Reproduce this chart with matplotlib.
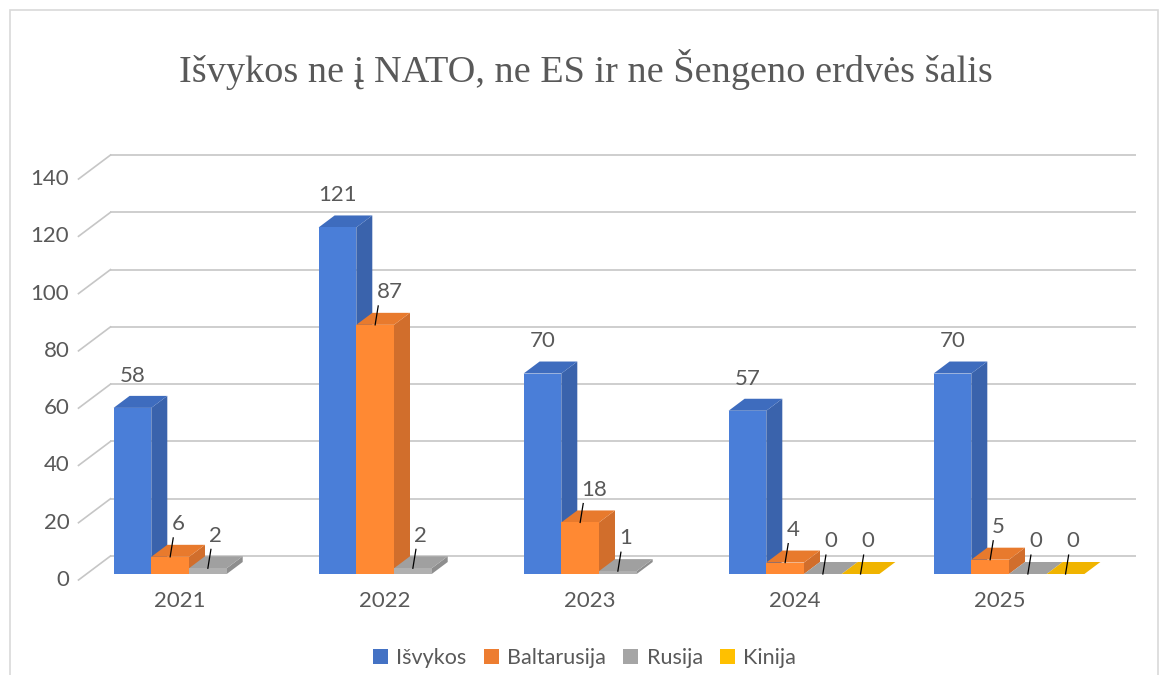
import matplotlib.pyplot as plt
from matplotlib.patches import Rectangle, Patch

years = ["2021", "2022", "2023", "2024", "2025"]
series = ["Išvykos", "Baltarusija", "Rusija", "Kinija"]
isvykos = [58, 121, 70, 57, 70]
baltarusija = [6, 87, 18, 4, 5]
rusija = [2, 2, 1, 0, 0]
kinija = [None, None, None, 0, 0]
values = [isvykos, baltarusija, rusija, kinija]
yticks = [0, 20, 40, 60, 80, 100, 120, 140]

# front, top, side colours per series
face_cols = ["#4a7ed8", "#ff8933", "#b0b0b0", "#ffc000"]
top_cols = ["#3e6cbe", "#e87a2d", "#a0a0a0", "#f0b400"]
side_cols = ["#3a63ac", "#d16e2c", "#8e8e8e", "#d9a200"]
legend_cols = ["#4472c4", "#ed7d31", "#a5a5a5", "#ffc000"]
txt = "#595959"
grid = "#c6c6c6"
fs = 16

W, H = 1160, 675
fig = plt.figure(figsize=(W / 100, H / 100), dpi=100)
plt.rcParams['font.family'] = ['Lato', 'DejaVu Sans']

# pixel geometry of the original chart
px_cat = 205.0      # pixels per category
cat0 = 189.0        # pixel x of first group centre
px_val = 2.864      # pixels per unit
y0 = 574.0          # pixel y of value 0 on bar front plane
xlim = (-0.6, 4.75)
ylim = (-4, 148)
left = cat0 + xlim[0] * px_cat
right = cat0 + xlim[1] * px_cat
bot = y0 - ylim[0] * px_val
top = y0 - ylim[1] * px_val
ax = fig.add_axes([left / W, 1 - bot / H, (right - left) / W, (bot - top) / H])
ax.set_xlim(*xlim)
ax.set_ylim(*ylim)
ax.axis("off")

# full depth of the floor, in data units
Dx = 32 / px_cat
Dy = 24 / px_val
w = 37.7 / px_cat
ddx, ddy = 0.5 * Dx, 0.5 * Dy

# back wall gridlines and left diagonal ticks
xl, xr = -0.5, 4.5
for v in yticks:
    ax.plot([xl + 0.75 * Dx, xr + 0.75 * Dx], [v + 0.75 * Dy, v + 0.75 * Dy],
            color=grid, lw=1.2, zorder=1, solid_capstyle="butt")
    ax.plot([xl - 0.25 * Dx, xl + 0.75 * Dx], [v - 0.25 * Dy, v + 0.75 * Dy],
            color=grid, lw=1.2, zorder=1)
    ax.text(xl - 0.25 * Dx - 0.045, v - 0.25 * Dy, str(v), ha="right", va="center",
            fontsize=fs, color=txt)

for i, yr in enumerate(years):
    ax.text(i - 0.25 * Dx - 0.04 * w, -0.25 * Dy - 7.2, yr, ha="center", va="center",
            fontsize=fs, color=txt)

# bars
for j, vals in enumerate(values):
    for i, v in enumerate(vals):
        if v is None:
            continue
        x0 = i + (j - 2) * w
        x1 = x0 + w
        z = 3 + j * 3
        ax.fill([x1, x1, x1 + ddx, x1 + ddx], [0, v, v + ddy, ddy],
                color=side_cols[j], lw=0, zorder=z)
        ax.fill([x0, x1, x1 + ddx, x0 + ddx], [v, v, v + ddy, v + ddy],
                color=top_cols[j], lw=0, zorder=z + 1)
        if v > 0:
            ax.bar(x0, v, width=w, align="edge", color=face_cols[j], lw=0, zorder=z + 2)
        xc = x0 + w / 2
        if j == 0:
            ax.text(xc, v + 11.2, str(v), ha="center", va="center",
                    fontsize=fs, color=txt, zorder=20)
        else:
            ax.plot([xc, xc + 0.015], [v, v + 6.6], color="black", lw=0.9, zorder=20)
            ax.text(xc + 0.006, v + 11.4, str(v), ha="left", va="center",
                    fontsize=fs, color=txt, zorder=20)

fig.text(0.505, 1 - 70 / H, "Išvykos ne į NATO, ne ES ir ne Šengeno erdvės šalis",
         ha="center", va="center", fontsize=27.5, color=txt,
         family=["Liberation Serif", "DejaVu Serif"])

handles = [Patch(facecolor=c, edgecolor="none", label=s) for c, s in zip(legend_cols, series)]
fig.legend(handles=handles, loc="center", bbox_to_anchor=(0.504, 1 - 658 / H), ncol=4,
           frameon=False, fontsize=15.5, labelcolor=txt, handlelength=0.68,
           handleheight=0.68, handletextpad=0.4, columnspacing=0.8)

fig.patches.append(Rectangle((10 / W, -0.01), 1148 / W, 1 - 10 / H + 0.01,
                             transform=fig.transFigure, fill=False,
                             edgecolor="#d9d9d9", lw=1.2))

plt.savefig("out.png", dpi=100)
